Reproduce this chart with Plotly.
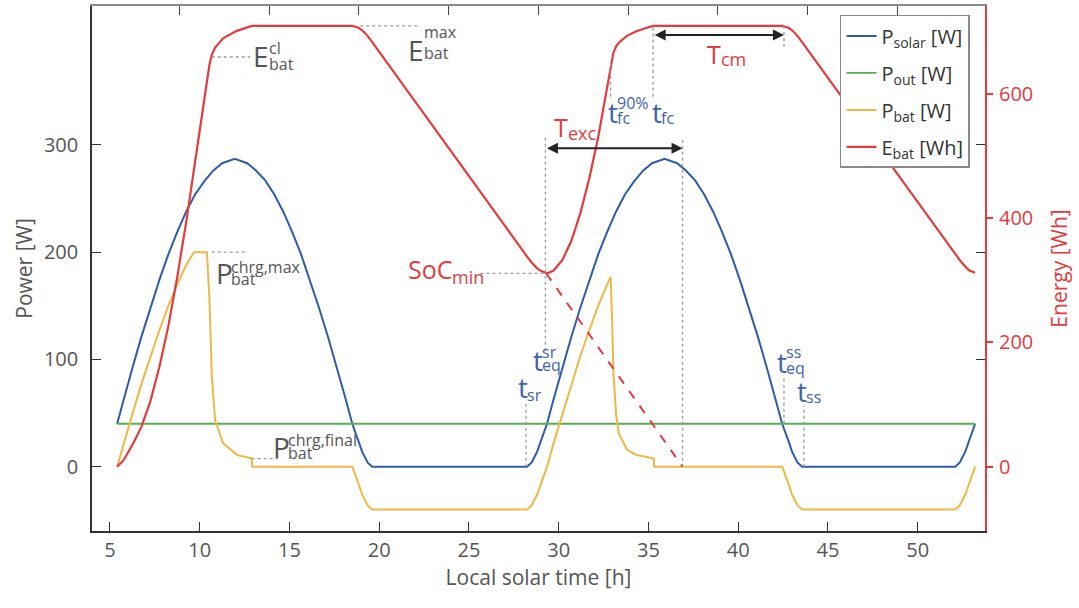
import plotly.graph_objects as go

# ---------------- data ----------------
t_solar = [5.4, 5.75, 6.25, 6.75, 7.25, 7.75, 8.25, 8.75, 9.25, 9.75, 10.25, 10.75, 11.25, 11.95,
           12.65, 13.15, 13.65, 14.15, 14.65, 15.15, 15.65, 16.15, 16.65, 17.15, 17.65, 18.15, 18.5,
           18.85, 19.05, 19.35, 19.61,
           28.24, 28.5, 28.8, 29.0, 29.35, 29.7, 30.2, 30.7, 31.2, 31.7, 32.2, 32.7, 33.2, 33.7, 34.2,
           34.7, 35.2, 35.9, 36.6, 37.1, 37.6, 38.1, 38.6, 39.1, 39.6, 40.1, 40.6, 41.1, 41.6, 42.1,
           42.45, 42.8, 43.0, 43.3, 43.56,
           52.09, 52.35, 52.65, 52.85, 53.2]
p_solar = [40, 62, 92, 121, 148, 174, 198, 219, 238, 254, 266, 276, 283, 287,
           283, 276, 267, 254, 238, 219, 198, 174, 148, 121, 92, 62, 40,
           24, 14, 4, 0,
           0, 4, 14, 24, 40, 62, 92, 121, 148, 174, 198, 219, 238, 254, 266,
           276, 283, 287, 283, 276, 267, 254, 238, 219, 198, 174, 148, 121, 92, 62,
           40, 24, 14, 4, 0,
           0, 4, 14, 24, 40]

t_out = [5.4, 53.2]
p_out = [40, 40]

t_bat = [5.4, 5.75, 6.25, 6.75, 7.25, 7.75, 8.25, 8.75, 9.25, 9.68, 10.4, 10.54, 10.67, 10.86,
         11.3, 12.07, 12.8, 12.9, 12.92, 18.5, 18.85, 19.05, 19.35, 19.61, 28.24, 28.5, 28.8,
         29.0, 29.35, 29.7, 30.2, 30.7, 31.2, 31.7, 32.2, 32.7, 32.89, 32.97, 33.05, 33.2, 33.35,
         33.8, 34.3, 34.9, 35.3, 35.32, 42.45, 42.8, 43.0, 43.3, 43.56, 52.09, 52.35, 52.65,
         52.85, 53.2]
p_bat = [0, 21, 49, 77, 103, 127, 150, 170, 188, 200, 200, 158, 87, 43,
         22, 11, 8, 7.5, 0, 0, -16, -26, -36, -40, -40, -36, -26,
         -16, 0, 21, 49, 77, 103, 127, 150, 170, 177, 140, 87, 48, 31,
         16, 11, 9, 7.5, 0, 0, -16, -26, -36, -40, -40, -36, -26,
         -16, 0]

t_e = [5.4, 5.75, 6.25, 6.75, 7.25, 7.75, 8.25, 8.75, 9.25, 9.68, 10.4, 10.54, 10.67, 10.86,
       11.3, 12.07, 12.9, 18.5, 18.85, 19.05, 19.35, 19.61, 28.24, 28.5, 28.8, 29.0, 29.35,
       29.7, 30.2, 30.7, 31.2, 31.7, 32.2, 32.7, 32.89, 32.97, 33.05, 33.2, 33.35, 33.8, 34.3,
       34.9, 35.3, 42.45, 42.8, 43.0, 43.3, 43.56, 52.09, 52.35, 52.65, 52.85, 53.2]
e_bat = [0, 10, 35, 64, 105, 160, 226, 305, 394, 477, 621, 646, 662, 674,
         689, 701, 709, 709, 706, 702, 693, 683, 338, 328, 319, 315, 311,
         315, 332, 363, 407, 463, 530, 612, 646, 657, 666, 676, 682, 693, 700,
         706, 709, 709, 706, 702, 693, 683, 341, 332, 322, 316, 312]

t_proj = [29.3, 36.9]
e_proj = [311, 0]

x_ticks = [5, 10, 15, 20, 25, 30, 35, 40, 45, 50]
p_ticks = [0, 100, 200, 300]
e_ticks = [0, 200, 400, 600]

# characteristic times / levels marked on the chart
t_sr, t_eq_sr, t_fc90, t_fc = 28.18, 29.26, 32.89, 35.26
t_exc_end, t_cm_end, t_eq_ss, t_ss = 36.9, 42.55, 42.55, 43.66
e_cl, e_max, soc_min = 659, 709, 311
p_chrg_max, p_chrg_final = 200, 7.5

# ---------------- style ----------------
FONT = "Open Sans, Noto Sans, sans-serif"
BLUE = "#2f5ca6"
GREEN = "#56b04c"
YELLOW = "#eeb847"
RED = "#e33b3e"
GRAY = "#555555"
TBLUE = "#4163ad"
DOT = "#9a9a9a"

X_RANGE = [4.0, 53.75]
Y_RANGE = [-60, 429.6]
Y2_RANGE = [-103.5, 741]

fig = go.Figure()
fig.add_trace(go.Scatter(x=t_solar, y=p_solar, mode="lines", name="P<sub>solar</sub> [W]",
                         line=dict(color=BLUE, width=2), legendgroup="a"))
fig.add_trace(go.Scatter(x=t_out, y=p_out, mode="lines", name="P<sub>out</sub> [W]",
                         line=dict(color=GREEN, width=1.8), legendgroup="b"))
fig.add_trace(go.Scatter(x=t_bat, y=p_bat, mode="lines", name="P<sub>bat</sub> [W]",
                         line=dict(color=YELLOW, width=2), legendgroup="c"))
fig.add_trace(go.Scatter(x=t_e, y=e_bat, mode="lines", name="E<sub>bat</sub> [Wh]",
                         line=dict(color=RED, width=2.2), yaxis="y2", legendgroup="d"))
fig.add_trace(go.Scatter(x=t_proj, y=e_proj, mode="lines", showlegend=False,
                         line=dict(color=RED, width=2, dash="dash"), yaxis="y2"))
# empty helper traces so that the extra tick axes are drawn
fig.add_trace(go.Scatter(x=[], y=[], xaxis="x2", yaxis="y", showlegend=False, hoverinfo="skip"))
fig.add_trace(go.Scatter(x=[], y=[], xaxis="x", yaxis="y3", showlegend=False, hoverinfo="skip"))

# ---------------- guide lines ----------------
def hline(x0, x1, y, yref="y"):
    fig.add_shape(type="line", xref="x", yref=yref, x0=x0, x1=x1, y0=y, y1=y,
                  line=dict(color=DOT, width=1.3, dash="dot"))

def vline(x, y0, y1, yref="y"):
    fig.add_shape(type="line", xref="x", yref=yref, x0=x, x1=x, y0=y0, y1=y1,
                  line=dict(color=DOT, width=1.3, dash="dot"))

hline(10.67, 12.81, e_cl, "y2")
hline(18.94, 22.29, e_max, "y2")
hline(10.67, 12.53, p_chrg_max)
hline(12.9, 14.37, p_chrg_final)
hline(25.64, t_eq_sr, soc_min, "y2")
vline(t_eq_sr, 108, 307)
vline(t_sr, 0, 59)
vline(t_exc_end, 0, 307)
vline(t_fc90, 595, 654, "y2")
vline(t_fc, 595, e_max, "y2")
vline(t_cm_end, 675, e_max, "y2")
vline(t_eq_ss, 40, 85)
vline(t_ss, 0, 57)

# double arrows
def darrow(x0, x1, y):
    fig.add_annotation(x=x1, y=y, ax=x0, ay=y, xref="x", yref="y", axref="x", ayref="y",
                       text="", showarrow=True, arrowhead=2, startarrowhead=2,
                       arrowside="end+start", arrowsize=1.1, startarrowsize=1.1,
                       arrowwidth=2, arrowcolor="#222222", standoff=0, startstandoff=0)

darrow(t_eq_sr, t_exc_end, 297)
darrow(t_fc, t_cm_end, 402.5)

# ---------------- labels ----------------
def txt(x, y, s, color, size, xshift=0, yshift=0):
    fig.add_annotation(x=x, y=y, xref="x", yref="y", text=s, showarrow=False,
                       xanchor="left", yanchor="middle", xshift=xshift, yshift=yshift,
                       font=dict(family=FONT, size=size, color=color), borderpad=0)

def label(x, y, base, color, bsize, dx, sup=None, sup_dy=0, sub=None, sub_dy=0, ssize=16):
    txt(x, y, base, color, bsize)
    if sup:
        txt(x, y, sup, color, ssize, xshift=dx, yshift=sup_dy)
    if sub:
        txt(x, y, sub, color, ssize, xshift=dx, yshift=sub_dy)

label(12.92, 383, "E", GRAY, 28, 16, "cl", 8, "bat", -8)
label(21.55, 388.6, "E", GRAY, 28, 16, "max", 18, "bat", -3)
label(10.86, 180.4, "P", GRAY, 28, 15, "chrg,max", 6, "bat", -6)
label(14.02, 17.9, "P", GRAY, 28, 15, "chrg,final", 7, "bat", -6)
label(21.55, 184.4, "SoC", RED, 25, 44, None, 0, "min", -8, ssize=18)
label(29.71, 316.6, "T", RED, 25, 14, None, 0, "exc", -6, ssize=18)
label(38.18, 385.3, "T", RED, 25, 14, None, 0, "cm", -5, ssize=18)
label(27.68, 74.6, "t", TBLUE, 28, 9, None, 0, "sr", -8)
label(28.52, 99.5, "t", TBLUE, 28, 9, "sr", 8, "eq", -5)
label(32.7, 331.2, "t", TBLUE, 28, 9, "90%", 9, "fc", -6)
label(35.12, 331.2, "t", TBLUE, 28, 9, None, 0, "fc", -6)
label(42.09, 97.2, "t", TBLUE, 28, 9, "ss", 10, "eq", -6)
label(43.2, 70.6, "t", TBLUE, 28, 9, None, 0, "ss", -6)

# ---------------- layout ----------------
fig.update_layout(
    width=1079, height=608,
    margin=dict(l=92, r=94, t=6, b=77, autoexpand=False),
    paper_bgcolor="white", plot_bgcolor="white",
    font=dict(family=FONT, size=20, color=GRAY),
    showlegend=True,
    legend=dict(x=0.8376, y=0.983, xanchor="left", yanchor="top",
                bgcolor="white", bordercolor="#8a8a8a", borderwidth=1.5,
                font=dict(family=FONT, size=20, color="#333333"),
                tracegroupgap=8, itemwidth=30),
    xaxis=dict(range=X_RANGE, tickvals=x_ticks, ticks="inside", ticklen=9, tickwidth=1.3,
               tickcolor="#333", showline=True, linecolor="#333", linewidth=1.6,
               showgrid=False, zeroline=False, ticklabelstandoff=0, automargin=False,
               tickfont=dict(size=20, color=GRAY),
               title=dict(text="Local solar time [h]", font=dict(size=21, color=GRAY), standoff=2)),
    xaxis2=dict(range=[X_RANGE[0] + 1.13, X_RANGE[1] + 1.13], overlaying="x", side="top",
                anchor="y", tickvals=x_ticks + [55], ticks="inside", ticklen=9, tickwidth=1.3,
                tickcolor="#444", showticklabels=False, showline=True, linecolor="#8c8c8c",
                linewidth=2, showgrid=False, zeroline=False, automargin=False),
    yaxis=dict(range=Y_RANGE, tickvals=p_ticks, ticks="inside", ticklen=9, tickwidth=1.3,
               tickcolor="#333", showline=True, linecolor="#333", linewidth=1.6,
               showgrid=False, zeroline=False, ticklabelstandoff=8, automargin=False,
               tickfont=dict(size=20, color=GRAY),
               title=dict(text="Power [W]", font=dict(size=21, color=GRAY), standoff=6)),
    yaxis2=dict(range=Y2_RANGE, tickvals=e_ticks, overlaying="y", side="right", anchor="x",
                ticks="outside", ticklen=6, tickwidth=1.5, tickcolor=RED,
                showline=True, linecolor=RED, linewidth=2, showgrid=False, zeroline=False,
                ticklabelstandoff=2, automargin=False, tickfont=dict(size=20, color=RED),
                title=dict(text="Energy [Wh]", font=dict(size=21, color=RED), standoff=20)),
    yaxis3=dict(range=Y_RANGE, tickvals=p_ticks[1:], overlaying="y", side="right", anchor="x",
                ticks="inside", ticklen=9, tickwidth=1.3, tickcolor="#333", automargin=False,
                showticklabels=False, showline=False, showgrid=False, zeroline=False),
)

fig.write_html("out.html", config={"displayModeBar": False},
               post_script="document.body.style.margin='0';")
